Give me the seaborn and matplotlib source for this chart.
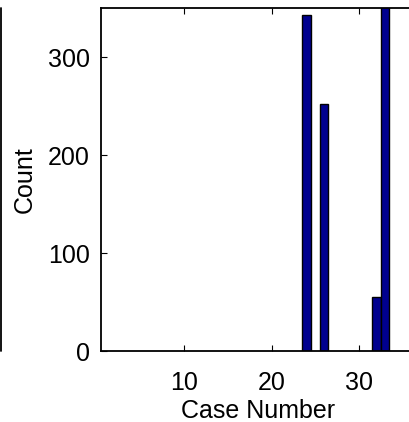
import pandas as pd
import seaborn as sns
import matplotlib.pyplot as plt
from matplotlib.lines import Line2D

# cases with a non-zero count
cases = [24, 26, 32, 33]
counts = [343, 252, 55, 380]   # last bar runs past the top of the axes
xticks = [10, 20, 30]
yticks = [0, 100, 200, 300]

df = pd.DataFrame({'case': cases, 'count': counts})

sns.set_style("ticks")
plt.rcParams['font.family'] = ['Liberation Sans', 'DejaVu Sans']

fig = plt.figure(figsize=(4.09, 4.22), dpi=100)
ax = fig.add_axes([0.247, 0.168, 0.77, 0.813])

sns.barplot(data=df, x='case', y='count', native_scale=True, width=0.95,
            color='#00008F', edgecolor='black', linewidth=1, ax=ax)
for p in ax.patches:
    p.set_facecolor('#00008F')

ax.set_xlim(0.5, 36.5)
ax.set_ylim(0, 350)
ax.set_xticks(xticks)
ax.set_yticks(yticks)
ax.tick_params(direction='in', labelsize=18, length=4, width=0.8,
               top=True, colors='black', pad=8)
ax.tick_params(axis='x', pad=14)
ax.set_xlabel('Case Number', fontsize=18, labelpad=3, color='black')
ax.set_ylabel('Count', fontsize=18, labelpad=8, color='black')
for s in ['left', 'bottom', 'top']:
    ax.spines[s].set_linewidth(1.3)
    ax.spines[s].set_color('black')
ax.spines['right'].set_visible(False)

# right edge of the neighbouring panel, cut off by the crop
fig.add_artist(Line2D([0.002, 0.002], [0.168, 0.981], color='black', lw=1.3,
                      transform=fig.transFigure))

fig.savefig('out.png', dpi=100)
